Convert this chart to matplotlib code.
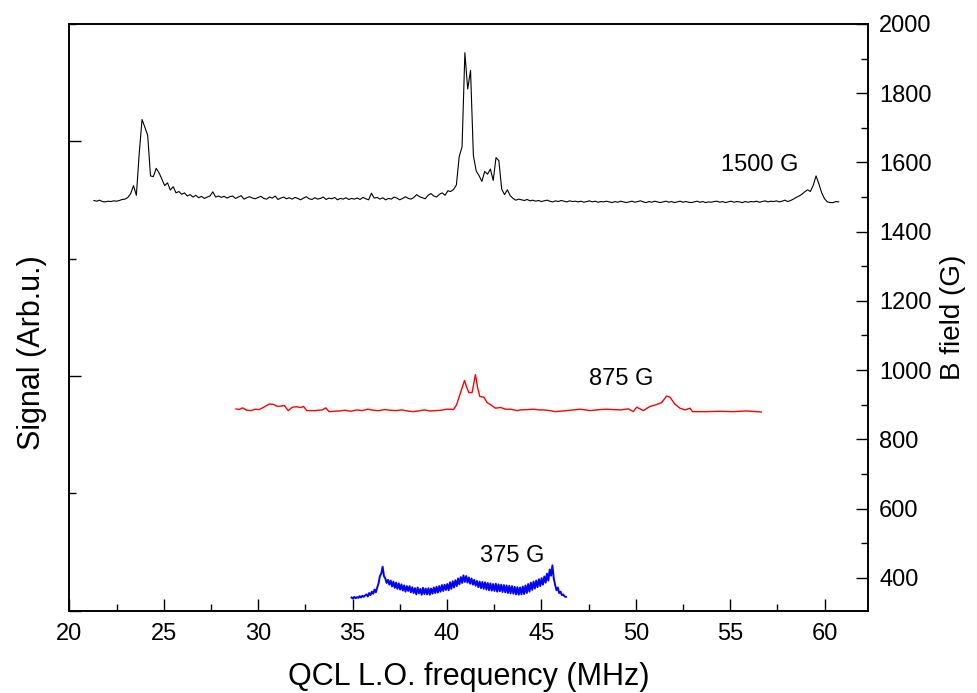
import numpy as np
import matplotlib
matplotlib.use("Agg")
import matplotlib.pyplot as plt
from matplotlib.ticker import MultipleLocator

plt.rcParams['font.family'] = ['Liberation Sans', 'DejaVu Sans']

# ---------------- data ----------------
# 1500 G trace (black), uniform frequency grid 21.30 .. 60.75 MHz
black_start, black_stop = 21.30, 60.75
black_vals = (
    [1490, 1488, 1491, 1487, 1486, 1488, 1487, 1489, 1488, 1490, 1493]
    + [1494, 1499, 1510, 1533, 1505, 1625, 1724, 1702, 1678, 1561,
       1559, 1583, 1570, 1552, 1533, 1541, 1520, 1530, 1512, 1516]
    + [1508, 1512, 1503, 1507, 1500, 1505, 1498, 1502, 1496, 1500,
       1503, 1515, 1500, 1503, 1499, 1502, 1497, 1501, 1503, 1496,
       1500, 1504, 1494, 1498, 1501, 1497, 1495, 1499, 1502, 1496,
       1494, 1500, 1497, 1503, 1493, 1497, 1500, 1495, 1498, 1494,
       1499, 1496, 1492, 1497, 1501, 1495, 1493, 1498, 1494, 1496,
       1500, 1493, 1497, 1495, 1499, 1492, 1496, 1494, 1498, 1493,
       1496, 1494, 1497, 1493, 1499, 1495, 1492, 1511, 1497, 1499,
       1494, 1498, 1492, 1496, 1494, 1500, 1497, 1492, 1496, 1501,
       1496, 1494, 1499, 1507, 1501, 1498, 1495, 1505, 1510, 1503,
       1500, 1508, 1512, 1505, 1518]
    + [1516, 1522, 1535, 1617, 1645, 1917, 1812, 1866, 1620, 1575,
       1562, 1545, 1574, 1566, 1581, 1548, 1614, 1605, 1523, 1507,
       1521, 1504, 1496, 1491, 1494]
    + [1492, 1490, 1493, 1489, 1491, 1488, 1490, 1487, 1489, 1491,
       1488, 1486, 1489, 1487, 1490, 1488, 1486, 1489, 1487, 1488,
       1486, 1488, 1485, 1487, 1489, 1486, 1488, 1485, 1487, 1486,
       1488, 1486, 1484, 1487, 1485, 1488, 1486, 1484, 1486, 1488,
       1485, 1487, 1489, 1486, 1484, 1487, 1485, 1488, 1486, 1484,
       1486, 1488, 1485, 1487, 1484, 1486, 1488, 1485, 1487, 1485,
       1484, 1486, 1488, 1485, 1487, 1484, 1486, 1485, 1487, 1488,
       1485, 1487, 1484, 1486, 1488, 1485, 1487, 1486, 1484, 1487,
       1485, 1487, 1486, 1488, 1485, 1487, 1489, 1486, 1488, 1487,
       1489, 1486, 1488]
    + [1491, 1487, 1490, 1494, 1499, 1503, 1508, 1515, 1521, 1516,
       1534, 1561, 1538, 1512, 1495, 1486, 1484, 1484, 1487, 1486]
)

# 875 G trace (red)
red_freq = [28.83, 29.0, 29.18, 29.4, 29.62, 29.85, 30.06, 30.3, 30.59, 30.8,
            31.03, 31.2, 31.38, 31.59, 31.82, 32.05, 32.26, 32.4, 32.58, 32.8,
            33.0, 33.2, 33.4, 33.58, 33.76, 34.0, 34.3, 34.6, 34.9, 35.2,
            35.5, 35.8, 36.1, 36.4, 36.7, 37.0, 37.3, 37.6, 37.9, 38.2,
            38.5, 38.8, 39.1, 39.4, 39.7, 39.95, 40.2, 40.35, 40.51, 40.72,
            40.93, 41.05, 41.16, 41.33, 41.51, 41.62, 41.74, 41.95, 42.13, 42.31,
            42.57, 42.84, 43.1, 43.36, 43.72, 43.89, 44.3, 44.6, 44.9, 45.12,
            45.44, 45.74, 46.35, 47.06, 47.58, 48.1, 48.46, 49.17, 49.61, 49.87,
            50.05, 50.4, 50.75, 51.02, 51.37, 51.63, 51.81, 52.07, 52.34, 52.6,
            52.87, 53.01, 53.39, 53.75, 54.45, 55.15, 55.86, 56.65]
red_field = [888, 886, 891, 884, 883, 887, 886, 893, 902, 901,
             895, 896, 898, 883, 893, 894, 892, 895, 883, 883,
             883, 884, 885, 891, 880, 881, 882, 884, 881, 885,
             883, 887, 884, 883, 886, 884, 883, 885, 882, 880,
             882, 885, 882, 883, 884, 887, 887, 886, 900, 935,
             970, 950, 935, 935, 987, 950, 924, 922, 906, 900,
             890, 892, 887, 887, 883, 885, 886, 887, 885, 885,
             883, 880, 883, 887, 883, 886, 887, 885, 888, 880,
             893, 883, 895, 899, 906, 925, 922, 902, 890, 885,
             890, 880, 880, 880, 881, 880, 882, 879]

# 375 G trace (blue), uniform frequency grid 34.95 .. 46.30 MHz
blue_start, blue_stop = 34.95, 46.30
blue_vals = (
    [343, 340, 345, 341, 344, 342, 347, 343, 348, 345, 349]
    + [352, 346, 356, 350, 360, 354, 366, 358]
    + [372, 384, 405, 412, 432]
    + [405, 398, 385, 394, 380]
    + [392, 375, 389, 371, 386, 368, 384, 366, 381, 363, 378, 360, 376, 362]
    + [376, 358, 373, 356, 370, 352, 372, 355, 368, 351, 371, 353, 369, 352]
    + [370, 351, 369, 354, 372, 356, 374, 357, 376, 360, 379, 362, 380, 365]
    + [382, 364, 387, 368, 390, 372, 393, 376, 398, 381, 402, 385, 407, 388]
    + [405, 386, 401, 383, 398, 380, 394, 377, 391, 373, 389, 370, 388, 368]
    + [387, 366, 385, 364, 384, 363, 382, 362, 383, 360, 381, 361, 380, 359]
    + [379, 358, 378, 356, 377, 355, 376, 354, 374, 352, 373, 351, 372, 352]
    + [375, 353, 378, 356, 382, 360, 386, 365, 389, 369, 392, 373, 396, 376]
    + [399, 380, 404, 386, 412, 392, 424, 406, 436]
    + [398, 380, 364, 372, 356, 360, 350, 352, 346, 345]
)

trace_labels = ["1500 G", "875 G", "375 G"]
label_pos = [(56.57, 1594), (49.21, 975), (43.45, 463)]

x_ticks = [20, 25, 30, 35, 40, 45, 50, 55, 60]
b_ticks = [400, 600, 800, 1000, 1200, 1400, 1600, 1800, 2000]

# ---------------- plot ----------------
fig = plt.figure(figsize=(9.78, 6.93), dpi=100)
ax = fig.add_axes([0.0709, 0.1188, 0.8166, 0.8466])
ax2 = ax.twinx()

black_x = np.linspace(black_start, black_stop, len(black_vals))
blue_x = np.linspace(blue_start, blue_stop, len(blue_vals))

ax2.plot(black_x, black_vals, color='black', lw=0.8)
ax2.plot(red_freq, red_field, color='#ff0000', lw=1.0)
ax2.plot(blue_x, blue_vals, color='#0000ff', lw=1.4)

for txt, (xx, yy) in zip(trace_labels, label_pos):
    ax2.text(xx, yy, txt, fontsize=17, ha='center', va='center')

ax.set_xlim(20, 62.3)
ax.set_ylim(0, 5)
ax2.set_ylim(305, 2000)

ax.set_xticks(x_ticks)
ax.xaxis.set_minor_locator(MultipleLocator(2.5))
ax.set_yticks([0, 2, 4])
ax.yaxis.set_minor_locator(MultipleLocator(1))
ax2.set_yticks(b_ticks)
ax2.yaxis.set_minor_locator(MultipleLocator(100))

ax.tick_params(axis='x', which='both', direction='in', top=False, labelsize=17, pad=9, width=1.0)
ax.tick_params(axis='y', which='both', direction='in', right=False, labelleft=False, width=1.0)
ax.tick_params(which='major', length=8.5)
ax.tick_params(which='minor', length=5)
ax2.tick_params(axis='y', which='both', direction='in', labelsize=17, pad=8, width=1.0)
ax2.tick_params(which='major', length=8.5)
ax2.tick_params(which='minor', length=5)

for a in (ax, ax2):
    for s in a.spines.values():
        s.set_linewidth(1.2)

ax.set_xlabel("QCL L.O. frequency (MHz)", fontsize=22, labelpad=12)
ax.set_ylabel("Signal (Arb.u.)", fontsize=22)
ax.yaxis.set_label_coords(-0.028, 0.44)
ax2.set_ylabel("B field (G)", fontsize=20, labelpad=6)

fig.savefig("out.png", dpi=100)
